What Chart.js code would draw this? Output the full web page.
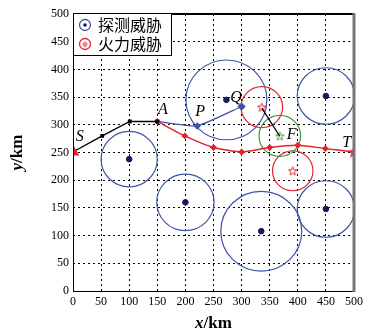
<!DOCTYPE html>
<html>
<head>
<meta charset="utf-8">
<script src="https://cdn.jsdelivr.net/npm/chart.js@4/dist/chart.umd.min.js"></script>
<style>
  body { margin: 0; background: #fff; }
  #wrap { width: 368px; height: 333px; position: relative; }
</style>
</head>
<body>
<div id="wrap"><canvas id="chart"></canvas></div>
<script>
// tick labels
const tickValues = [0, 50, 100, 150, 200, 250, 300, 350, 400, 450, 500];

// detection threats (blue): centre and radius, km
const detX = [100, 200, 273, 335, 450, 450];
const detY = [238, 160, 345, 108, 148, 352];
const detR = [50, 51, 72, 72, 51, 51];

// fire threats (red)
const fireX = [336, 391];
const fireY = [332, 217];
const fireR = [37, 36];

// point F and its circle (green)
const fX = [368];
const fY = [280];
const fR = [37];

// route S -> A (black)
const pathSX = [0, 52, 101, 150];
const pathSY = [251, 280, 306, 306];
// route A -> P -> Q (blue)
const pathBlueX = [150, 221, 300];
const pathBlueY = [306, 298, 333];
// fire centre -> F (black)
const pathFX = [336, 368];
const pathFY = [330, 279];
// route A -> T (red)
const pathRedX = [150, 199, 250, 300, 350, 400, 449, 500];
const pathRedY = [306, 280, 259, 251, 259, 263, 257, 251];

// point labels
const labelText = ["S", "A", "P", "Q", "F", "T"];
const labelX = [12, 160, 226, 290, 389, 487];
const labelY = [278, 327, 323, 348, 282, 268];

const toPts = (xs, ys) => xs.map((x, i) => ({ x: x, y: ys[i] }));

function starImage(size, color, fill) {
    const c = document.createElement("canvas");
    c.width = size; c.height = size;
    const g = c.getContext("2d");
    const r = size / 2 - 1, cx = size / 2, cy = size / 2 + 0.5;
    g.beginPath();
    for (let i = 0; i < 10; i++) {
        const a = -Math.PI / 2 + i * Math.PI / 5;
        const rr = i % 2 === 0 ? r : r * 0.42;
        g.lineTo(cx + rr * Math.cos(a), cy + rr * Math.sin(a));
    }
    g.closePath();
    if (fill) { g.fillStyle = color; g.fill(); }
    g.strokeStyle = color; g.lineWidth = 1; g.stroke();
    return c;
}

const BLUE = "#3b55a6", RED = "#e3232b", GREEN = "#3d9a3a", NAVY = "#17175e";
const fireStar = starImage(11, RED, false);
const greenStar = starImage(11, GREEN, false);
const endStar = starImage(13, RED, true);

// circles in km, drawn through the scales
const circlePlugin = {
    id: "circles",
    beforeDatasetsDraw(chart) {
        const ctx = chart.ctx, xs = chart.scales.x, ys = chart.scales.y, a = chart.chartArea;
        ctx.save();
        ctx.beginPath();
        ctx.rect(a.left, a.top, a.right - a.left, a.bottom - a.top);
        ctx.clip();
        function ring(cx, cy, r, color) {
            const px = xs.getPixelForValue(cx), py = ys.getPixelForValue(cy);
            const rx = xs.getPixelForValue(cx + r) - px;
            const ry = py - ys.getPixelForValue(cy + r);
            ctx.beginPath();
            ctx.ellipse(px, py, rx, ry, 0, 0, Math.PI * 2);
            ctx.strokeStyle = color;
            ctx.lineWidth = 1.2;
            ctx.stroke();
        }
        detX.forEach((x, i) => ring(x, detY[i], detR[i], BLUE));
        fireX.forEach((x, i) => ring(x, fireY[i], fireR[i], RED));
        fX.forEach((x, i) => ring(x, fY[i], fR[i], GREEN));
        ctx.restore();
    },
    afterDraw(chart) {
        const ctx = chart.ctx, xs = chart.scales.x, ys = chart.scales.y, a = chart.chartArea;
        ctx.save();
        // frame
        ctx.strokeStyle = "#000";
        ctx.lineWidth = 1;
        ctx.beginPath();
        ctx.moveTo(a.left + 0.5, a.top);
        ctx.lineTo(a.left + 0.5, a.bottom + 0.5);
        ctx.lineTo(a.right, a.bottom + 0.5);
        ctx.stroke();
        ctx.lineWidth = 2;
        ctx.beginPath();
        ctx.moveTo(a.left, a.top);
        ctx.lineTo(a.right, a.top);
        ctx.stroke();
        ctx.strokeStyle = "#777";
        ctx.lineWidth = 3;
        ctx.beginPath();
        ctx.moveTo(a.right, a.top - 1);
        ctx.lineTo(a.right, a.bottom + 1);
        ctx.stroke();

        // point labels
        ctx.fillStyle = "#000";
        ctx.font = "italic 16px 'Liberation Serif'";
        ctx.textAlign = "center";
        ctx.textBaseline = "middle";
        labelText.forEach((t, i) => {
            ctx.fillText(t, xs.getPixelForValue(labelX[i]), ys.getPixelForValue(labelY[i]));
        });

        // legend
        const lx = a.left, ly = a.top - 1;
        ctx.fillStyle = "#fff";
        ctx.fillRect(lx, ly, 99, 43);
        ctx.strokeStyle = "#000";
        ctx.lineWidth = 1;
        ctx.strokeRect(lx + 0.5, ly + 0.5, 98, 42);
        ctx.lineWidth = 1.3;
        ctx.strokeStyle = BLUE;
        ctx.beginPath(); ctx.arc(lx + 12, ly + 12, 5.5, 0, Math.PI * 2); ctx.stroke();
        ctx.fillStyle = NAVY;
        ctx.beginPath(); ctx.arc(lx + 12, ly + 12, 1.8, 0, Math.PI * 2); ctx.fill();
        ctx.strokeStyle = RED;
        ctx.beginPath(); ctx.arc(lx + 12, ly + 31, 5.5, 0, Math.PI * 2); ctx.stroke();
        ctx.drawImage(starImage(7, RED, false), lx + 8.5, ly + 27.5);
        ctx.fillStyle = "#000";
        ctx.font = "16px 'Noto Sans CJK SC'";
        ctx.textAlign = "left";
        ctx.fillText("探测威胁", lx + 25, ly + 12);
        ctx.fillText("火力威胁", lx + 25, ly + 31);

        // axis titles
        ctx.textAlign = "left";
        ctx.textBaseline = "alphabetic";
        const xt1 = "x", xt2 = "/km";
        ctx.font = "italic bold 17px 'Liberation Serif'";
        const w1 = ctx.measureText(xt1).width;
        ctx.font = "bold 17px 'Liberation Serif'";
        const w2 = ctx.measureText(xt2).width;
        let sx = (a.left + a.right) / 2 - (w1 + w2) / 2;
        ctx.font = "italic bold 17px 'Liberation Serif'";
        ctx.fillText(xt1, sx, 328);
        ctx.font = "bold 17px 'Liberation Serif'";
        ctx.fillText(xt2, sx + w1, 328);

        ctx.translate(22, (a.top + a.bottom) / 2);
        ctx.rotate(-Math.PI / 2);
        ctx.font = "italic bold 17px 'Liberation Serif'";
        const v1 = ctx.measureText("y").width;
        ctx.font = "bold 17px 'Liberation Serif'";
        const v2 = ctx.measureText("/km").width;
        sx = -(v1 + v2) / 2;
        ctx.font = "italic bold 17px 'Liberation Serif'";
        ctx.fillText("y", sx, 0);
        ctx.font = "bold 17px 'Liberation Serif'";
        ctx.fillText("/km", sx + v1, 0);
        ctx.restore();
    }
};

const axisBase = {
    type: "linear",
    min: 0,
    max: 500,
    afterBuildTicks: s => { s.ticks = tickValues.map(v => ({ value: v })); },
    grid: { color: "#000", lineWidth: 1, drawTicks: false },
    border: { display: false, dash: [2, 3] },
    ticks: { color: "#000", font: { family: "'Liberation Serif'", size: 12 }, padding: 4 }
};

new Chart(document.getElementById("chart"), {
    type: "scatter",
    data: {
        datasets: [
            {
                label: "S-A",
                data: toPts(pathSX, pathSY),
                showLine: true,
                borderColor: "#000",
                borderWidth: 1.3,
                pointStyle: ["triangle", "rect", "rect", "rect"],
                pointRadius: [6, 1.8, 1.8, 1.8],
                pointBackgroundColor: [RED, "#000", "#000", "#000"],
                pointBorderColor: [RED, "#000", "#000", "#000"]
            },
            {
                label: "A-T",
                data: toPts(pathRedX, pathRedY),
                showLine: true,
                tension: 0.2,
                borderColor: RED,
                borderWidth: 1.4,
                pointStyle: pathRedX.map((x, i) => i === pathRedX.length - 1 ? endStar : "rectRot"),
                pointRadius: 2.5,
                pointBackgroundColor: RED,
                pointBorderColor: RED
            },
            {
                label: "A-Q",
                data: toPts(pathBlueX, pathBlueY),
                showLine: true,
                tension: 0.15,
                borderColor: BLUE,
                borderWidth: 1.3,
                pointStyle: "rectRot",
                pointRadius: [0, 2.8, 3.2],
                pointBackgroundColor: BLUE,
                pointBorderColor: BLUE
            },
            {
                label: "to F",
                data: toPts(pathFX, pathFY),
                showLine: true,
                borderColor: "#000",
                borderWidth: 1.2,
                pointRadius: 0
            },
            {
                label: "det centres",
                data: toPts(detX, detY),
                pointStyle: "circle",
                pointRadius: 2.8,
                pointBackgroundColor: NAVY,
                pointBorderColor: NAVY
            },
            {
                label: "fire centres",
                data: toPts(fireX, fireY),
                pointStyle: fireStar,
                pointBackgroundColor: RED,
                pointBorderColor: RED
            },
            {
                label: "F",
                data: toPts(fX, fY),
                pointStyle: greenStar,
                pointBackgroundColor: GREEN,
                pointBorderColor: GREEN
            }
        ]
    },
    options: {
        responsive: true,
        maintainAspectRatio: false,
        animation: false,
        events: [],
        layout: { padding: { top: 14, right: 14, left: 0, bottom: 0 } },
        plugins: { legend: { display: false }, tooltip: { enabled: false } },
        scales: {
            x: Object.assign({}, axisBase, { afterFit: s => { s.height = 42; } }),
            y: Object.assign({}, axisBase, { afterFit: s => { s.width = 73; } })
        }
    },
    plugins: [circlePlugin]
});
</script>
</body>
</html>
